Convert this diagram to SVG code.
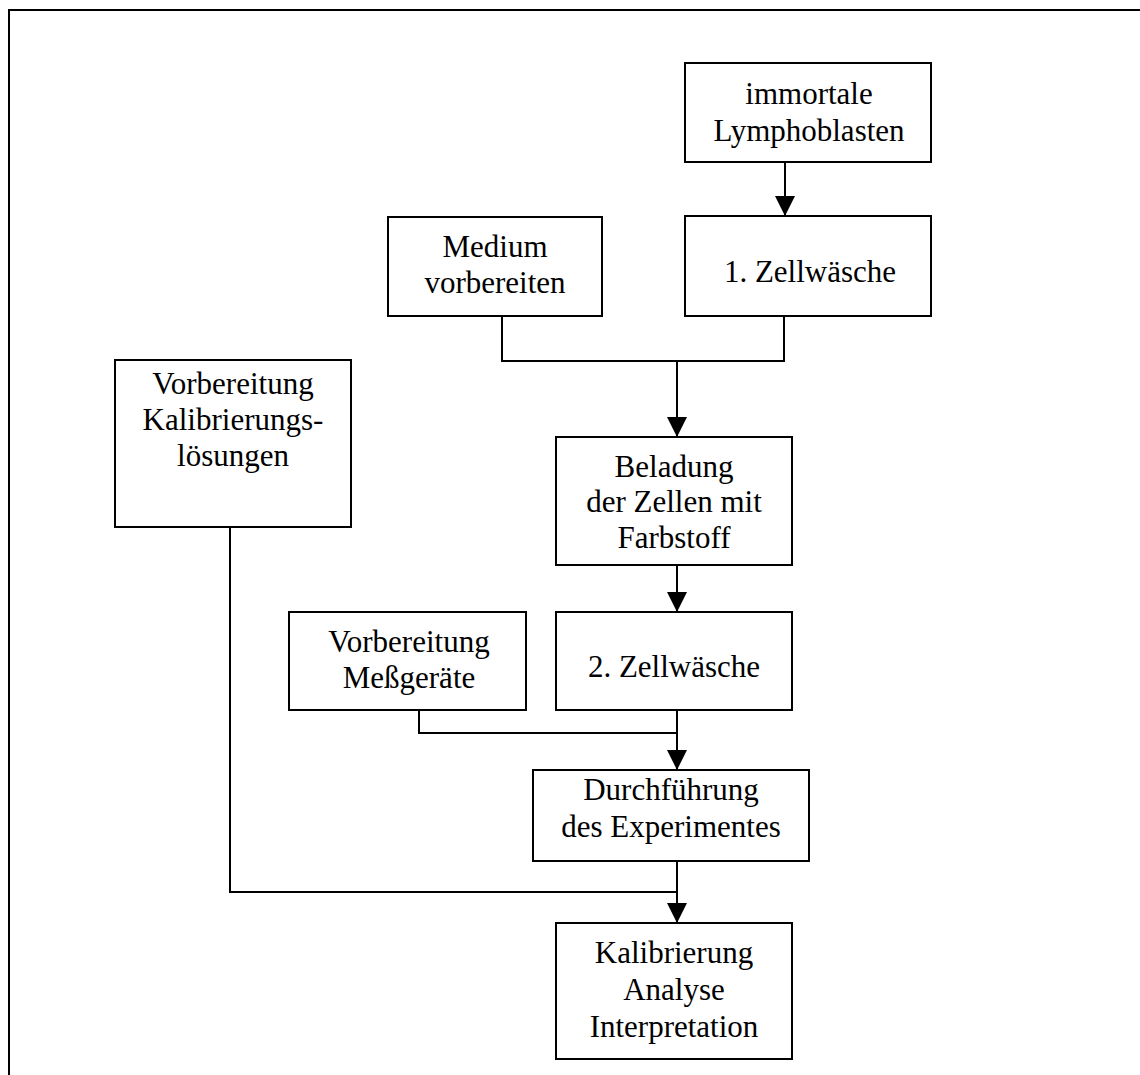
<svg xmlns="http://www.w3.org/2000/svg" width="1140" height="1075" viewBox="0 0 1140 1075">
<style>
.box{fill:#fff;stroke:#000;stroke-width:2}
.t{font-family:"Liberation Serif","Times New Roman",serif;font-size:31px;fill:#000;text-anchor:middle}
.c{fill:none;stroke:#000;stroke-width:2}
</style>
<defs>
<marker id="ah" markerUnits="userSpaceOnUse" markerWidth="20" markerHeight="20" refX="20" refY="10" orient="auto" viewBox="0 0 20 20">
<path d="M0,0 L20,10 L0,20 z" fill="#000"/>
</marker>
</defs>
<rect width="1140" height="1075" fill="#fff"/>
<path d="M9,1075 V10 H1140" fill="none" stroke="#000" stroke-width="2"/>
<g id="connectors">
<path class="c" d="M785,162 V216" marker-end="url(#ah)"/>
<path class="c" d="M502,316 V361 H784 V316"/>
<path class="c" d="M677,361 V437" marker-end="url(#ah)"/>
<path class="c" d="M677,565 V612" marker-end="url(#ah)"/>
<path class="c" d="M419,710 V733 H677"/>
<path class="c" d="M677,710 V770" marker-end="url(#ah)"/>
<path class="c" d="M230,527 V892 H677"/>
<path class="c" d="M677,861 V923" marker-end="url(#ah)"/>
</g>
<g id="n-lympho">
<rect class="box" x="685" y="63" width="246" height="99"/>
<text class="t" x="809" y="104">immortale</text><text class="t" x="809" y="141">Lymphoblasten</text>
</g>
<g id="n-wash1">
<rect class="box" x="685" y="216" width="246" height="100"/>
<text class="t" x="810" y="282">1. Zellwäsche</text>
</g>
<g id="n-medium">
<rect class="box" x="388" y="217" width="214" height="99"/>
<text class="t" x="495" y="257">Medium</text><text class="t" x="495" y="293">vorbereiten</text>
</g>
<g id="n-beladung">
<rect class="box" x="556" y="437" width="236" height="128"/>
<text class="t" x="674" y="477">Beladung</text><text class="t" x="674" y="512">der Zellen mit</text><text class="t" x="674" y="548">Farbstoff</text>
</g>
<g id="n-kalloes">
<rect class="box" x="115" y="360" width="236" height="167"/>
<text class="t" x="233" y="394">Vorbereitung</text><text class="t" x="233" y="430">Kalibrierungs-</text><text class="t" x="233" y="466">lösungen</text>
</g>
<g id="n-wash2">
<rect class="box" x="556" y="612" width="236" height="98"/>
<text class="t" x="674" y="677">2. Zellwäsche</text>
</g>
<g id="n-messgeraete">
<rect class="box" x="289" y="612" width="237" height="98"/>
<text class="t" x="409" y="652">Vorbereitung</text><text class="t" x="409" y="688">Meßgeräte</text>
</g>
<g id="n-experiment">
<rect class="box" x="533" y="770" width="276" height="91"/>
<text class="t" x="671" y="800">Durchführung</text><text class="t" x="671" y="837">des Experimentes</text>
</g>
<g id="n-analyse">
<rect class="box" x="556" y="923" width="236" height="136"/>
<text class="t" x="674" y="963">Kalibrierung</text><text class="t" x="674" y="1000">Analyse</text><text class="t" x="674" y="1037">Interpretation</text>
</g>
</svg>
